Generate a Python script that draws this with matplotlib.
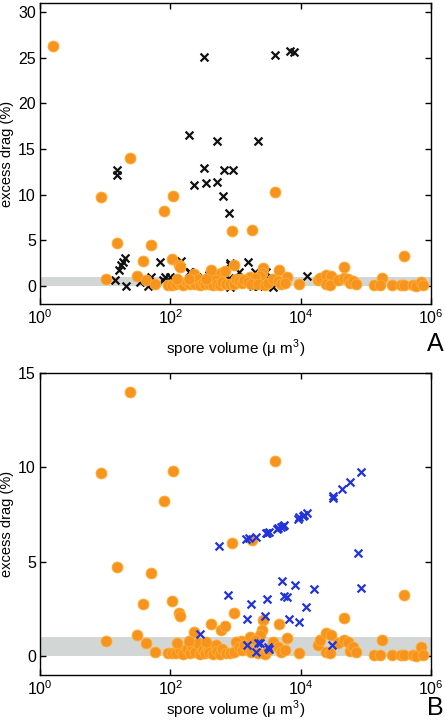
import matplotlib
matplotlib.use("Agg")
import matplotlib.pyplot as plt
from matplotlib.ticker import LogLocator, NullLocator

plt.rcParams['font.family'] = ['Liberation Sans', 'DejaVu Sans']
plt.rcParams['mathtext.fontset'] = 'custom'
plt.rcParams['mathtext.rm'] = 'Liberation Sans'

# orange circles (shared by both panels): spore volume (um^3), excess drag (%)
orange_vol = [1.6, 8.6, 10.2, 15, 24, 31, 38, 43, 50, 59, 80, 91, 105, 108, 107,
              136, 141, 232, 420, 590, 690, 870, 955, 1820, 2630, 2510, 2340,
              4070, 4570, 6170, 46800, 380000, 174000, 1230, 1660, 2000, 9550,
              120, 141, 158, 178, 200, 214, 240, 263, 282, 316, 339, 372, 398,
              447, 501, 525, 575, 631, 724, 832, 933, 1000, 1120, 1260, 1350,
              1580, 1740, 2240, 2820, 3160, 3800, 4470, 5010, 5750,
              126, 190, 355,
              18600, 19500, 24500, 29500, 24500, 28200, 37200, 45700, 52500,
              56200, 63100, 70800,
              135000, 162000, 251000, 347000, 380000, 525000, 589000, 708000, 759000]
orange_drag = [26.3, 9.7, 0.78, 4.73, 14.0, 1.12, 2.75, 0.68, 4.43, 0.23, 8.2, 0.14, 2.9, 9.8, 0.14,
               2.31, 2.1, 1.3, 1.69, 1.39, 1.62, 5.97, 2.31, 6.13, 1.92, 1.39, 1.12,
               10.33, 1.69, 0.94, 2.04, 3.25, 0.85, 0.8, 1.0, 0.85, 0.18,
               0.15, 0.3, 0.12, 0.4, 0.15, 0.55, 0.2, 0.7, 0.1, 0.35, 0.15, 0.5, 0.2,
               0.1, 0.6, 0.25, 0.1, 0.4, 0.15, 0.15, 0.2, 0.75, 0.5, 0.3, 0.6,
               0.4, 0.2, 0.15, 0.1, 0.3, 0.75, 0.5, 0.2, 0.3,
               0.7, 0.8, 0.75,
               0.59, 0.85, 1.21, 1.12, 0.23, 0.14, 0.68, 0.85, 0.76,
               0.28, 0.5, 0.23,
               0.05, 0.05, 0.05, 0.05, 0.05, 0.05, 0.0, 0.46, 0.05]

# black crosses (panel A)
black_vol = [331, 3980, 6760, 7940, 191, 513, 2190, 15, 15.3, 331, 676, 912, 232, 355,
             525, 646, 794, 14.1, 20.9, 16.4, 17.4, 18.6, 20, 69, 148, 1550, 12300,
             34, 46, 51, 83, 100, 78, 191, 389, 813, 794, 1120, 2000, 1860, 2950,
             3160, 3800, 813, 457, 316, 126, 117, 200, 813, 813, 2240]
black_drag = [25.1, 25.3, 25.7, 25.6, 16.5, 15.9, 15.9, 12.7, 12.1, 12.9, 12.65, 12.7, 11.1, 11.3,
              11.4, 9.85, 8.04, 0.65, 0.03, 1.75, 2.3, 2.65, 3.0, 2.65, 2.76, 2.65, 1.09,
              0.47, 0.0, 1.02, 1.02, 0.95, 0.65, 1.56, 1.2, 2.47, 0.84, 1.49, 1.56, 0.0, 1.56,
              0.84, -0.1, -0.1, 0.95, 1.02, 0.65, 0.84, 1.56, 2.29, 0.65, -0.05]

# blue crosses (panel B)
blue_vol = [550, 1450, 1620, 2040, 2950, 3310, 4270, 5010, 5620, 9120, 10700, 12600,
            30900, 43700, 56200, 83200, 75900, 776, 1700, 1480, 3020, 5130, 8320,
            5500, 6170, 16200, 12000, 6610, 9550, 85100, 2820, 282, 1480, 2340,
            2090, 3310, 30200, 3160, 2240, 3000, 4500, 5300, 9500, 11300, 31500]
blue_drag = [5.83, 6.19, 6.24, 6.33, 6.54, 6.6, 6.76, 6.86, 6.95, 7.29, 7.43, 7.57,
             8.46, 8.85, 9.2, 9.78, 5.48, 3.22, 2.75, 1.96, 3.02, 3.98, 3.79,
             3.17, 3.11, 3.57, 2.58, 1.96, 1.83, 3.61, 2.1, 1.16, 0.59, 0.68,
             0.23, 0.36, 0.59, 0.46, 0.71, 6.5, 6.8, 6.9, 7.35, 7.5, 8.4]

ORANGE = '#f7941d'
BAND = '#d2d7d5'

fig = plt.figure(figsize=(4.45, 7.24), dpi=100)
axA = fig.add_axes([0.0899, 0.580, 0.8787, 0.4157])
axB = fig.add_axes([0.0899, 0.0677, 0.8787, 0.4171])


def style_axis(ax, ylim, yticks, xlab_y):
    ax.set_xscale('log')
    ax.set_xlim(1, 1e6)
    ax.set_ylim(*ylim)
    ax.set_yticks(yticks)
    ax.xaxis.set_major_locator(LogLocator(base=100))
    ax.xaxis.set_minor_locator(NullLocator())
    ax.axhspan(0, 1, color=BAND, zorder=0, lw=0)
    ax.tick_params(direction='in', top=True, right=True, labelsize=11.5,
                   length=4, width=1, pad=3)
    for s in ax.spines.values():
        s.set_linewidth(1.0)
    ax.set_xlabel('spore volume (μ m$^3$)', fontsize=11)
    ax.set_ylabel('excess drag (%)', fontsize=10.5)
    ax.xaxis.set_label_coords(0.5, xlab_y)
    ax.yaxis.set_label_coords(-0.066, 0.5)


style_axis(axA, (-2, 31), range(0, 31, 5), -0.112)
axA.scatter(black_vol, black_drag, marker='x', s=32, color='#111111',
            linewidths=1.6, zorder=2)
axA.scatter(orange_vol, orange_drag, s=62, color=ORANGE, edgecolors='#ffb03a',
            linewidths=0.6, zorder=3)

style_axis(axB, (-1, 15), [0, 5, 10, 15], -0.078)
axB.scatter(orange_vol, orange_drag, s=62, color=ORANGE, edgecolors='#ffb03a',
            linewidths=0.6, zorder=2)
axB.scatter(blue_vol, blue_drag, marker='x', s=32, color='#2233dd',
            linewidths=1.6, zorder=3)

fig.text(0.997, 1 - 344 / 724, 'A', fontsize=18, ha='right', va='center')
fig.text(0.997, 1 - 708 / 724, 'B', fontsize=18, ha='right', va='center')

fig.savefig('out.png', dpi=100)
